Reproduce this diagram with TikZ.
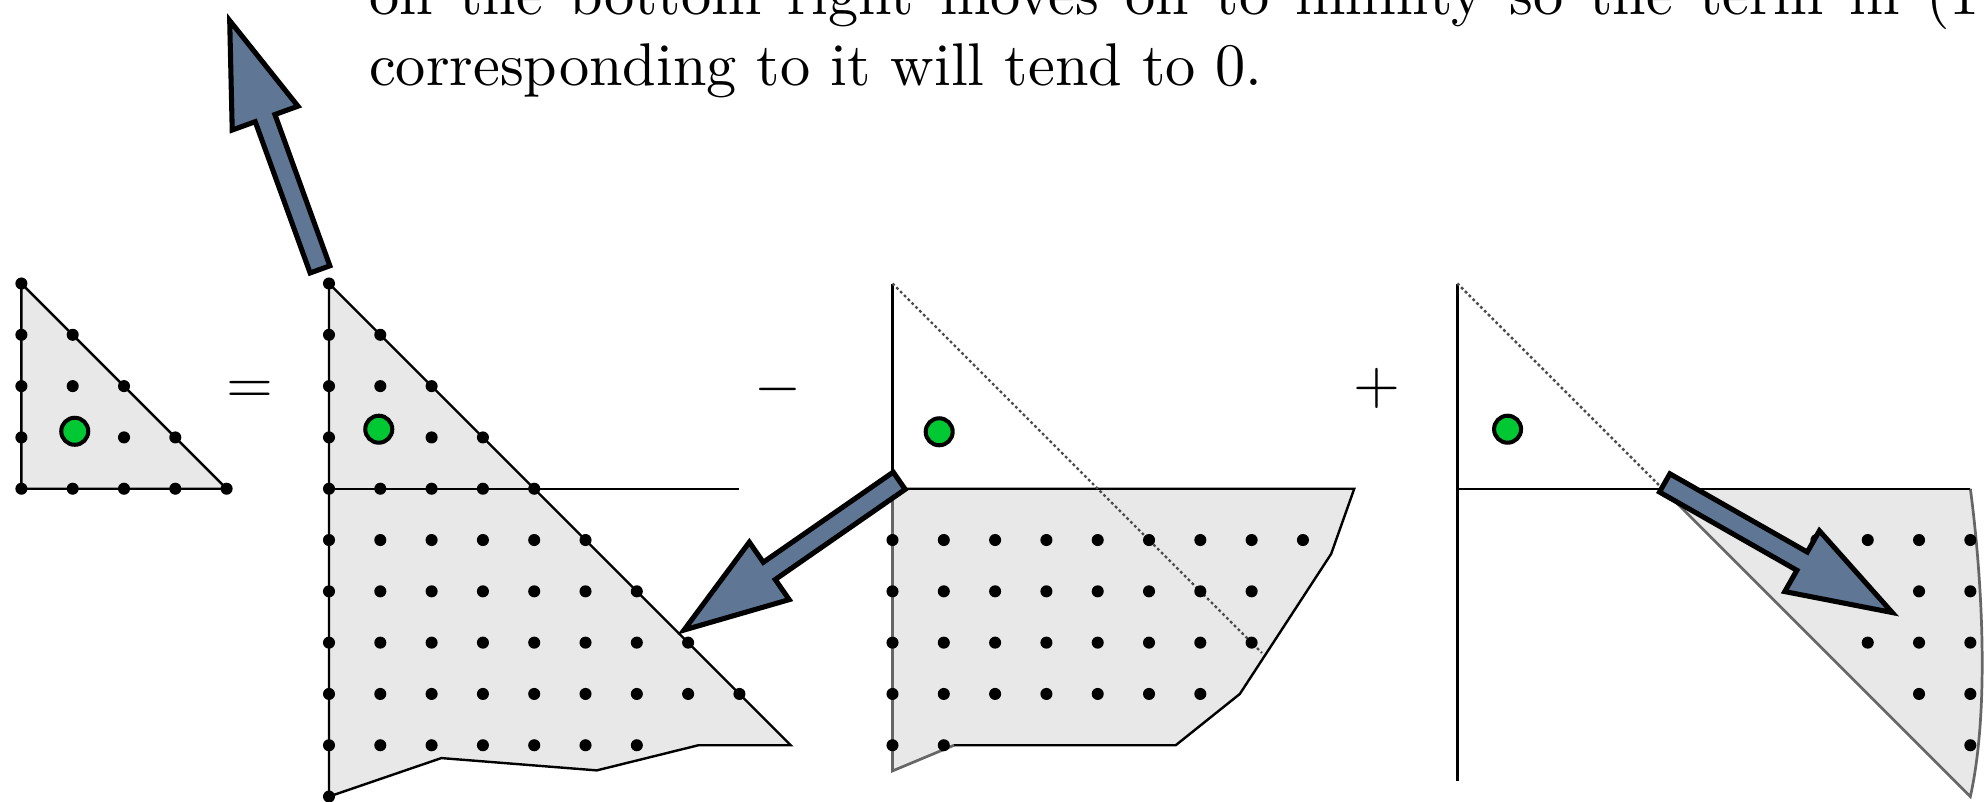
\documentclass[tikz,border=0pt]{standalone}
\usetikzlibrary{calc}
\definecolor{regiongray}{RGB}{232,232,232}
\definecolor{arrowblue}{RGB}{95,119,148}
\definecolor{dotgreen}{RGB}{0,200,50}
\newcommand\ldot[2]{\fill (#1,#2) circle[radius=1.0pt];}
\newcommand\greenmark[2]{\filldraw[greenmarkstyle] (#1,#2) circle[radius=2.24pt];}
\newcommand\blockarrow[2]{%
  \coordinate (#1n) at ($(#2)!17.2pt!(#1)$);
  \filldraw[blockarrowstyle]
    ($(#1)!1.74pt!90:(#2)$) -- ($(#1n)!1.74pt!-90:(#1)$) -- ($(#1n)!5.8pt!-90:(#1)$) --
    (#2) --
    ($(#1n)!5.8pt!90:(#1)$) -- ($(#1n)!1.74pt!90:(#1)$) -- ($(#1)!1.74pt!-90:(#2)$) -- cycle;}
\tikzset{
  region/.style={fill=regiongray},
  edgeline/.style={draw=black, line width=0.4pt},
  softedge/.style={draw=black!60, line width=0.45pt},
  diagline/.style={dash pattern=on 0.45pt off 0.45pt, draw=black!70, line width=0.4pt},
  greenmarkstyle/.style={fill=dotgreen, draw=black, line width=0.67pt},
  blockarrowstyle/.style={fill=arrowblue, draw=black, line width=0.84pt, line join=miter},
  textline/.style={anchor=base west, inner sep=0pt},
  sign/.style={anchor=base, inner sep=0pt},
  grid/.style={x=8.508pt, y=8.508pt}
}
\begin{document}
\begin{tikzpicture}[x=0.16584pt, y=-0.16584pt]
\useasboundingbox (0,0) rectangle (1987,801);
\clip (0,0) rectangle (1987,801);

% text
\node[textline] (line1) at (368,14) {\spaceskip=4.35pt on the bottom right moves on to infinity so the term in (1};
\node[textline] (line2) at (368,85.5) {corresponding to it will tend to 0.};

% signs
\node[sign] (eq) at (250,403) {$=$};
\node[sign] (minus) at (778,404) {$-$};
\node[sign] (plus) at (1377,403) {$+$};

% figure 1
\begin{scope}[shift={(21.4,488.7)}, grid]
  \filldraw[region, edgeline] (0,4) -- (4,0) -- (0,0) -- cycle;
  \foreach \i in {0,...,4} {\ldot{\i}{0}}
  \foreach \i in {0,2,3} {\ldot{\i}{1}}
  \foreach \i in {0,1,2} {\ldot{\i}{2}}
  \foreach \i in {0,1} {\ldot{\i}{3}}
  \ldot{0}{4}
  \greenmark{1.04}{1.12}
\end{scope}

% figure 2
\begin{scope}[shift={(329,488.7)}, grid]
  \filldraw[region, edgeline] (0,4) -- (9,-5) -- (7.2,-5) -- (5.22,-5.49) -- (2.19,-5.25) -- (0,-6) -- cycle;
  \draw[edgeline] (0,0) -- (8,0);
  \ldot{0}{4}
  \foreach \i in {0,1} {\ldot{\i}{3}}
  \foreach \i in {0,1,2} {\ldot{\i}{2}}
  \foreach \i in {0,2,3} {\ldot{\i}{1}}
  \foreach \i in {0,...,4} {\ldot{\i}{0}}
  \foreach \j/\n in {-1/5,-2/6,-3/7,-4/8,-5/6} {\foreach \i in {0,...,\n} {\ldot{\i}{\j}}}
  \ldot{0}{-6}
  \greenmark{0.97}{1.16}
\end{scope}

% figure 3
\begin{scope}[shift={(892.5,488.7)}, grid]
  \fill[region] (0,0) -- (9,0) -- (8.55,-1.27) -- (6.77,-4) -- (5.52,-5) -- (1.2,-5) -- (0,-5.5) -- cycle;
  \draw[edgeline] (0,0) -- (9,0) -- (8.55,-1.27) -- (6.77,-4) -- (5.52,-5) -- (1.2,-5);
  \draw[softedge] (1.2,-5) -- (0,-5.5) -- (0,0);
  \draw[edgeline] (0,0) -- (0,4);
  \draw[diagline] (0,4) -- (7.2,-3.2);
  \foreach \j/\n in {-1/8,-2/7,-3/7,-4/6,-5/1} {\foreach \i in {0,...,\n} {\ldot{\i}{\j}}}
  \greenmark{0.91}{1.11}
\end{scope}

% figure 4
\begin{scope}[shift={(1457.3,488.7)}, grid]
  \fill[region] (4,0) -- (10,0) .. controls (10.2,-1.5) and (10.4,-4.2) .. (10,-6) -- cycle;
  \draw[softedge] (10,0) .. controls (10.2,-1.5) and (10.4,-4.2) .. (10,-6) -- (4,0);
  \draw[edgeline] (0,0) -- (10,0);
  \draw[edgeline] (0,4) -- (0,-5.7);
  \draw[diagline] (0,4) -- (4,0);
  \foreach \j in {-1,-2,-3,-4,-5} {\pgfmathtruncatemacro\st{5-\j}\foreach \i in {\st,...,10} {\ldot{\i}{\j}}}
  \greenmark{0.98}{1.16}
\end{scope}

% block arrows
\coordinate (a1t) at (320.0,269.35);
\coordinate (a1p) at (229.7,20.6);
\coordinate (a2t) at (899.2,480.7);
\coordinate (a2p) at (684.05,630.0);
\coordinate (a3t) at (1664.7,482.9);
\coordinate (a3p) at (1892.2,612.5);
\blockarrow{a1t}{a1p}
\blockarrow{a2t}{a2p}
\blockarrow{a3t}{a3p}
\end{tikzpicture}
\end{document}
